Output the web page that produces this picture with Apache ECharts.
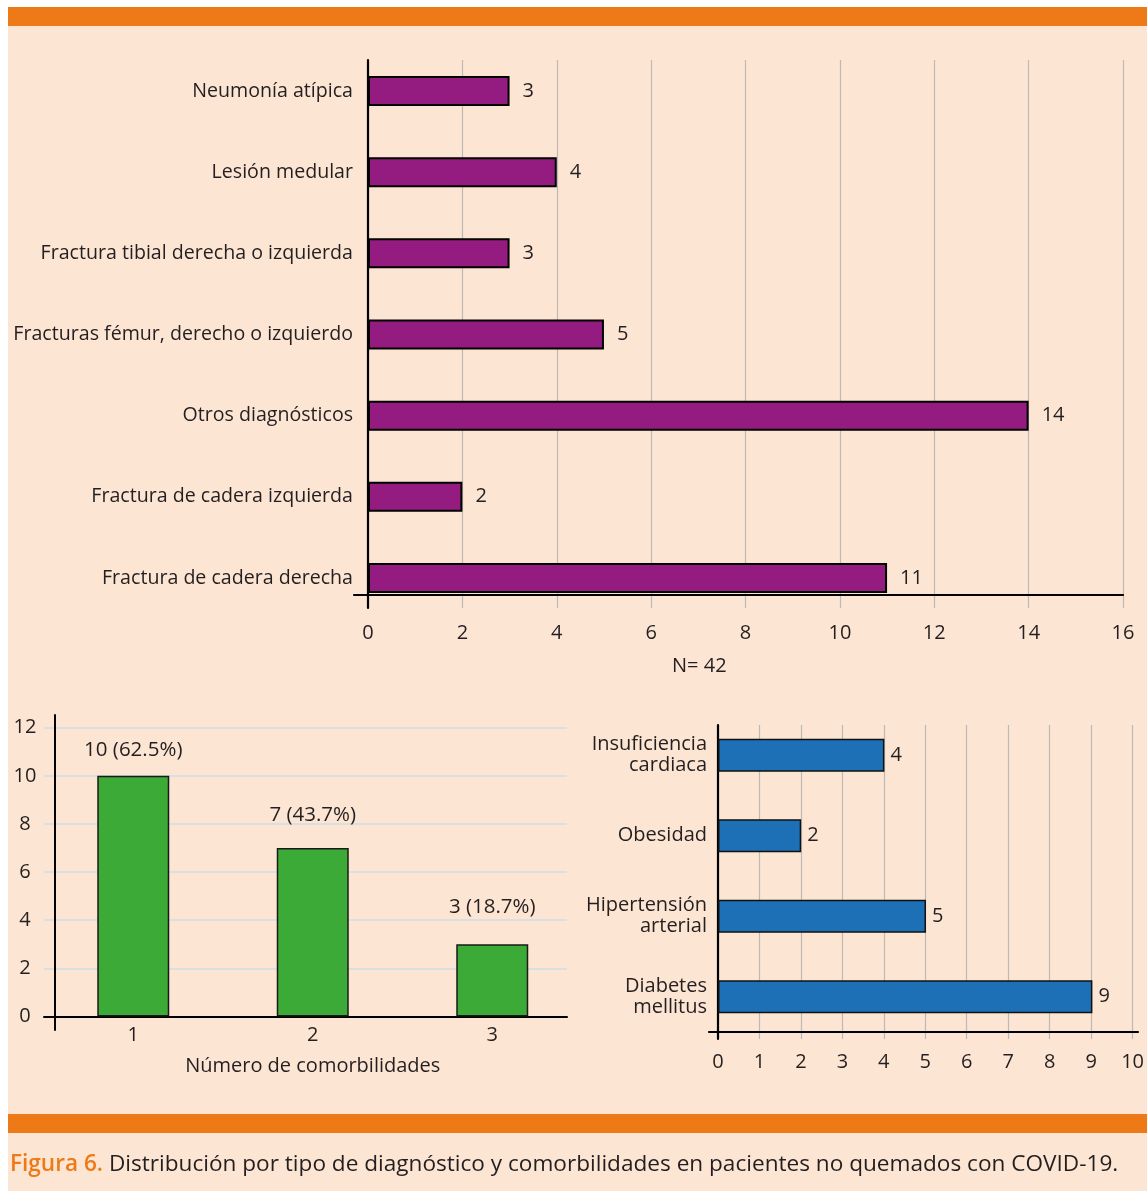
<!DOCTYPE html>
<html>
<head>
<meta charset="utf-8">
<script src="https://cdn.jsdelivr.net/npm/echarts@6/dist/echarts.min.js"></script>
<style>
  html, body { margin: 0; padding: 0; background: #ffffff; }
  #panel { position: absolute; left: 8px; top: 7px; width: 1139px; height: 1184px; background: #FDE5D3; }
  #chart { position: absolute; left: 0; top: 0; width: 1147px; height: 1191px; }
</style>
</head>
<body>
<div id="panel"></div>
<div id="chart"></div>
<script>
// ---- data ----
const diagCategories = [
  'Neumonía atípica',
  'Lesión medular',
  'Fractura tibial derecha o izquierda',
  'Fracturas fémur, derecho o izquierdo',
  'Otros diagnósticos',
  'Fractura de cadera izquierda',
  'Fractura de cadera derecha'
];
const diagValues = [3, 4, 3, 5, 14, 2, 11];
const diagTotalLabel = 'N= 42';

const comorbCountCategories = ['1', '2', '3'];
const comorbCountValues = [10, 7, 3];
const comorbCountLabels = ['10 (62.5%)', '7 (43.7%)', '3 (18.7%)'];
const comorbCountAxisName = 'Número de comorbilidades';

const comorbTypeCategories = ['Insuficiencia\ncardiaca', 'Obesidad', 'Hipertensión\narterial', 'Diabetes\nmellitus'];
const comorbTypeValues = [4, 2, 5, 9];

const captionLead = 'Figura 6.';
const captionText = ' Distribución por tipo de diagnóstico y comorbilidades en pacientes no quemados con COVID-19.';

// ---- styles ----
const FONT = 'Open Sans';
const TXT = '#231f20';
const ORANGE = '#EE7A17';
const GRIDGRAY = '#bdbab6';
const LIGHTBLUE = '#cfdde3';
const FS = 20;
const W = 1147, H = 1191;

const chart = echarts.init(document.getElementById('chart'), null, { renderer: 'canvas' });

const hidden = { show: false };
const noAxis = {
  axisLine: hidden, axisTick: hidden, axisLabel: hidden, splitLine: hidden
};

const option = {
  backgroundColor: 'transparent',
  textStyle: { fontFamily: FONT, color: TXT },
  animation: false,
  grid: [
    { left: 368, right: W - 1123, top: 50.5, height: 568 },
    { left: 368, right: W - 1123, top: 60, bottom: H - 608 },
    { left: 354, right: W - 1123, top: 60, bottom: H - 595 },
    { left: 43.5, width: 538.5, top: 727.7, bottom: H - 1016.5 },
    { left: 44, right: W - 567, top: 727.7, bottom: H - 1016.5 },
    { left: 55, right: W - 567, top: 715, bottom: H - 1030 },
    { left: 718, right: W - 1134, top: 715, height: 322 },
    { left: 718, right: W - 1134, top: 725, bottom: H - 1039 },
    { left: 709, right: W - 1138, top: 725, bottom: H - 1032 }
  ],
  xAxis: [
    { gridIndex: 0, type: 'value', min: 0, max: 16, ...noAxis },
    { gridIndex: 1, type: 'value', min: 0, max: 16, interval: 2,
      axisLine: hidden, axisTick: hidden,
      splitLine: { show: true, lineStyle: { color: GRIDGRAY, width: 1.2 } },
      axisLabel: { show: true, margin: 15, fontSize: FS, color: TXT, fontFamily: FONT } },
    { gridIndex: 2, type: 'value', min: 0, max: 16, ...noAxis,
      axisLine: { show: true, lineStyle: { color: '#000', width: 2.2 } } },
    { gridIndex: 3, type: 'category', data: comorbCountCategories,
      axisLine: hidden, axisTick: hidden, splitLine: hidden,
      axisLabel: { show: true, margin: 9, fontSize: FS, color: TXT, fontFamily: FONT },
      name: comorbCountAxisName, nameLocation: 'middle', nameGap: 40,
      nameTextStyle: { fontSize: FS, color: TXT, fontFamily: FONT } },
    { gridIndex: 4, type: 'value', min: 0, max: 1, ...noAxis,
      axisLine: { show: true, lineStyle: { color: '#000', width: 2 } } },
    { gridIndex: 5, type: 'value', min: 0, max: 1, ...noAxis },
    { gridIndex: 6, type: 'value', min: 0, max: 10, ...noAxis },
    { gridIndex: 7, type: 'value', min: 0, max: 10, interval: 1,
      axisLine: hidden, axisTick: hidden,
      splitLine: { show: true, lineStyle: { color: GRIDGRAY, width: 1.2 } },
      axisLabel: { show: true, margin: 13, fontSize: FS, color: TXT, fontFamily: FONT } },
    { gridIndex: 8, type: 'value', min: 0, max: 10, ...noAxis,
      axisLine: { show: true, lineStyle: { color: '#000', width: 2.2 } } }
  ],
  yAxis: [
    { gridIndex: 0, type: 'category', inverse: true, data: diagCategories,
      axisLine: hidden, axisTick: hidden, splitLine: hidden,
      axisLabel: { show: true, margin: 15, fontSize: 19.6, color: TXT, fontFamily: FONT } },
    { gridIndex: 1, type: 'value', min: 0, max: 1, ...noAxis,
      axisLine: { show: true, lineStyle: { color: '#000', width: 2.2 } } },
    { gridIndex: 2, type: 'value', min: 0, max: 1, ...noAxis },
    { gridIndex: 3, type: 'value', min: 0, max: 12, ...noAxis },
    { gridIndex: 4, type: 'value', min: 0, max: 12, interval: 2,
      axisLine: hidden,
      axisTick: { show: false },
      splitLine: { show: true, lineStyle: { color: LIGHTBLUE, width: 1.5 } },
      axisLabel: { show: true, margin: 19, align: 'center', fontSize: FS, color: TXT, fontFamily: FONT } },
    { gridIndex: 5, type: 'value', min: 0, max: 1, ...noAxis,
      axisLine: { show: true, lineStyle: { color: '#000', width: 2 } } },
    { gridIndex: 6, type: 'category', inverse: true, data: comorbTypeCategories,
      axisLine: hidden, axisTick: hidden, splitLine: hidden,
      axisLabel: { show: true, margin: 11, fontSize: FS, lineHeight: 21, color: TXT, fontFamily: FONT, align: 'right' } },
    { gridIndex: 7, type: 'value', min: 0, max: 1, ...noAxis,
      axisLine: { show: true, lineStyle: { color: '#000', width: 2.2 } } },
    { gridIndex: 8, type: 'value', min: 0, max: 1, ...noAxis }
  ],
  series: [
    { type: 'bar', xAxisIndex: 0, yAxisIndex: 0, data: diagValues, barWidth: 30,
      itemStyle: { color: '#941B7F', borderColor: '#000', borderWidth: 2 },
      label: { show: true, position: 'right', distance: 13, fontSize: FS, color: TXT, fontFamily: FONT } },
    { type: 'bar', xAxisIndex: 3, yAxisIndex: 3, barWidth: 72,
      data: comorbCountValues.map((v, i) => ({
        value: v,
        label: { distance: [15, 22, 27][i] }
      })),
      itemStyle: { color: '#3CAA36', borderColor: '#1a1a1a', borderWidth: 1.5 },
      label: { show: true, position: 'top', fontSize: 20.5, color: TXT, fontFamily: FONT,
        formatter: p => comorbCountLabels[p.dataIndex] } },
    { type: 'bar', xAxisIndex: 6, yAxisIndex: 6, data: comorbTypeValues, barWidth: 33,
      itemStyle: { color: '#1E70B6', borderColor: '#111', borderWidth: 1.5 },
      label: { show: true, position: 'right', distance: 6, fontSize: FS, color: TXT, fontFamily: FONT } }
  ],
  graphic: [
    { type: 'rect', left: 8, top: 7, shape: { width: W - 8, height: 19 }, style: { fill: ORANGE }, silent: true },
    { type: 'rect', left: 8, top: 1114, shape: { width: W - 8, height: 19 }, style: { fill: ORANGE }, silent: true },
    { type: 'text', left: 672, top: 656,
      style: { text: diagTotalLabel, fontSize: 20, fill: TXT, fontFamily: FONT } },
    { type: 'text', left: 10, top: 1153,
      style: {
        text: '{a|' + captionLead + '}{b|' + captionText + '}',
        rich: {
          a: { fontSize: 22.6, fill: ORANGE, fontWeight: 600, fontFamily: FONT },
          b: { fontSize: 22.6, fill: TXT, fontFamily: FONT }
        }
      } }
  ]
};

chart.setOption(option);
</script>
</body>
</html>
